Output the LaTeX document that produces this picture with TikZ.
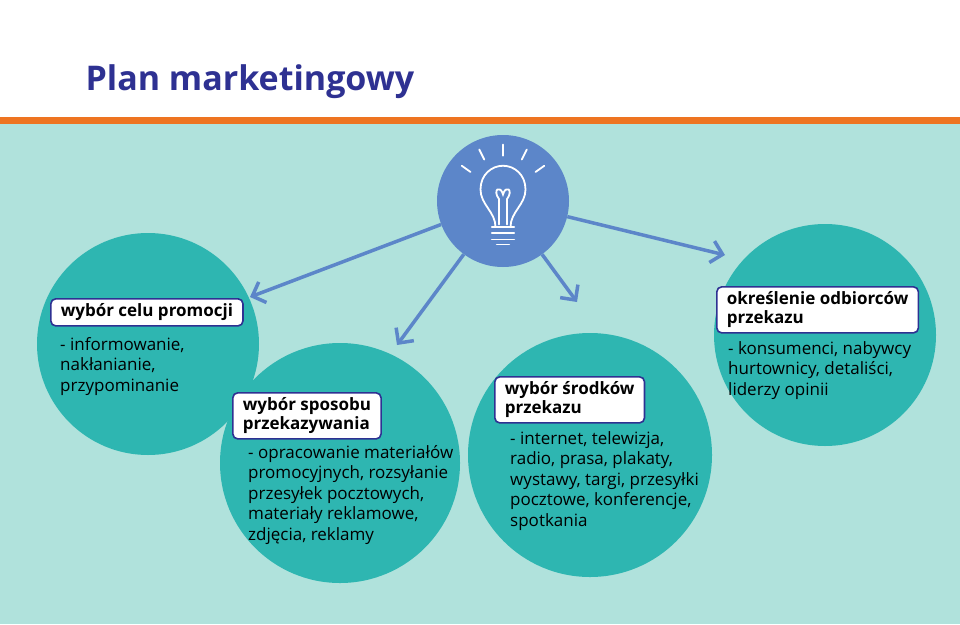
\documentclass[tikz,border=0pt]{standalone}
\usepackage{fontspec}
\setmainfont{Open Sans}
\usetikzlibrary{arrows.meta}
\definecolor{bg}{HTML}{B0E2DC}
\definecolor{teal}{HTML}{2EB6B1}
\definecolor{bulb}{HTML}{5C86C9}
\definecolor{navy}{HTML}{2E3192}
\definecolor{orng}{HTML}{EE7421}
\tikzset{
  circ/.style={circle,fill=teal,inner sep=0pt},
  lbl/.style={draw=navy,line width=1.6pt,fill=white,rounded corners=5pt,font=\bfseries\fontsize{17}{19}\selectfont,align=left,anchor=north west,inner xsep=10pt,inner ysep=5pt},
  body/.style={font=\fontsize{17}{20.5}\selectfont,align=left,anchor=north west,inner sep=0pt},
  arr/.style={draw=bulb,line width=3.5pt,-{Straight Barb[length=11pt,width=22pt,line width=3.5pt]}},
  bl/.style={draw=white,line width=1.8pt,line cap=round}
}
\begin{document}
\begin{tikzpicture}[x=1pt,y=-1pt]
\useasboundingbox (0,0) rectangle (960,624);
\fill[white] (0,0) rectangle (960,118);
\fill[bg] (0,118) rectangle (960,624);
\fill[orng] (0,117) rectangle (960,124);
\node[anchor=west,text=navy,font=\bfseries\fontsize{34}{40}\selectfont] (title) at (82,82) {Plan marketingowy};
% circles
\node[circ,minimum size=222pt] (c1) at (148,344) {};
\node[circ,minimum size=240pt] (c2) at (340,463) {};
\node[circ,minimum size=244pt] (c3) at (590,455) {};
\node[circ,minimum size=222pt] (c4) at (825,335) {};
\node[circle,fill=bulb,minimum size=132pt,inner sep=0pt] (b) at (503,201) {};
% arrow targets
\coordinate (t1) at (250,297);
\coordinate (t2) at (397,345);
\coordinate (t3) at (577,302);
\coordinate (t4) at (725,255);
\draw[arr] (b) -- (t1);
\draw[arr] (b) -- (t2);
\draw[arr] (b) -- (t3);
\draw[arr] (b) -- (t4);
% bulb icon
\begin{scope}[shift={(503,197)},scale=1.25]
\draw[bl] (-6,24) .. controls (-6,12) and (-18,6) .. (-18,-6) .. controls (-18,-18) and (-9,-25) .. (0,-25) .. controls (9,-25) and (18,-18) .. (18,-6) .. controls (18,6) and (6,12) .. (6,24);
\draw[bl] (-3,22) -- (-3,2) (3,22) -- (3,2);
\draw[bl] (-3,2) .. controls (-9,-6) and (-2,-10) .. (0,-2) .. controls (2,-10) and (9,-6) .. (3,2);
\draw[bl] (-9,24) -- (9,24) (-9,29) -- (9,29) (-9,34) -- (9,34);
\draw[bl] (-5,38) -- (5,38);
\draw[bl] (0,-33) -- (0,-42) (-15,-30) -- (-19,-38) (15,-30) -- (19,-38) (-26,-20) -- (-33,-25) (26,-20) -- (33,-25);
\end{scope}
% labels
\node[lbl] (l1) at (50,298) {wybór celu promocji};
\node[body] (x1) at (60,337) {- informowanie,\\nakłanianie,\\przypominanie};
\node[lbl] (l2) at (232,392) {wybór sposobu\\przekazywania};
\node[body] (x2) at (248,445) {- opracowanie materiałów\\promocyjnych, rozsyłanie\\przesyłek pocztowych,\\materiały reklamowe,\\zdjęcia, reklamy};
\node[lbl] (l3) at (494,376) {wybór środków\\przekazu};
\node[body] (x3) at (510,431) {- internet, telewizja,\\radio, prasa, plakaty,\\wystawy, targi, przesyłki\\pocztowe, konferencje,\\spotkania};
\node[lbl] (l4) at (716,286) {określenie odbiorców\\przekazu};
\node[body] (x4) at (728,341) {- konsumenci, nabywcy\\hurtownicy, detaliści,\\liderzy opinii};
\end{tikzpicture}
\end{document}
